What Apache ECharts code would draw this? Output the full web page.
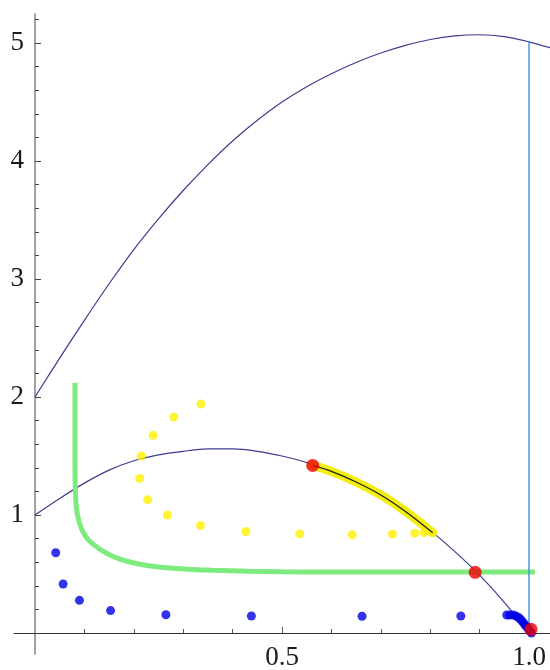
<!DOCTYPE html>
<html>
<head>
<meta charset="utf-8">
<script src="https://cdn.jsdelivr.net/npm/echarts@6/dist/echarts.min.js"></script>
<style>
  html, body { margin: 0; padding: 0; background: #ffffff; }
  #chart { width: 550px; height: 670px; }
</style>
</head>
<body>
<div id="chart"></div>
<script>
// ---- data ----
const upperX = [0, 0.05, 0.1, 0.15, 0.2, 0.25, 0.3, 0.35, 0.4, 0.45, 0.5, 0.55, 0.6, 0.65, 0.7, 0.75, 0.8, 0.85, 0.9, 0.95, 1.0, 1.0425];
const upperY = [2.00, 2.33, 2.65, 2.96, 3.25, 3.51, 3.75, 3.97, 4.17, 4.345, 4.50, 4.63, 4.74, 4.835, 4.915, 4.98, 5.03, 5.06, 5.07, 5.055, 5.01, 4.96];

const lowerX = [0, 0.05, 0.1, 0.15, 0.2, 0.25, 0.3, 0.35, 0.4, 0.45, 0.5, 0.55, 0.6, 0.65, 0.7, 0.75, 0.8, 0.85, 0.9, 0.95, 1.0];
const lowerY = [1.00, 1.14, 1.27, 1.38, 1.46, 1.51, 1.54, 1.56, 1.56, 1.54, 1.50, 1.445, 1.37, 1.28, 1.17, 1.03, 0.87, 0.69, 0.49, 0.26, 0.0];

const bandX = [0.562, 0.6, 0.65, 0.7, 0.75, 0.805];
const bandY = [1.42, 1.37, 1.28, 1.17, 1.03, 0.85];

const greenX = [0.081, 0.081, 0.0815, 0.083, 0.086, 0.091, 0.098, 0.108, 0.12, 0.135, 0.155, 0.18, 0.21, 0.25, 0.30, 0.36, 0.43, 0.5, 0.6, 0.8, 1.012];
const greenY = [2.12, 1.50, 1.25, 1.10, 1.00, 0.92, 0.85, 0.79, 0.745, 0.70, 0.655, 0.615, 0.585, 0.56, 0.543, 0.532, 0.524, 0.519, 0.516, 0.516, 0.518];

const yellowX = [0.336, 0.281, 0.239, 0.215, 0.212, 0.228, 0.268, 0.335, 0.427, 0.536, 0.642, 0.7235, 0.769, 0.788];
const yellowY = [1.94, 1.83, 1.675, 1.50, 1.31, 1.13, 1.00, 0.91, 0.86, 0.84, 0.833, 0.839, 0.845, 0.85];

const blueX = [0.042, 0.057, 0.090, 0.153, 0.265, 0.438, 0.662, 0.862, 0.955, 0.961, 0.968, 0.973, 0.978, 0.982, 0.985, 0.989, 0.992, 0.995, 0.998, 1.000, 1.003, 1.005];
const blueY = [0.68, 0.415, 0.277, 0.19, 0.155, 0.144, 0.142, 0.144, 0.153, 0.153, 0.153, 0.145, 0.133, 0.12, 0.104, 0.086, 0.068, 0.055, 0.04, 0.025, 0.012, 0.0];

const redX = [0.562, 0.891, 1.004];
const redY = [1.42, 0.514, 0.031];

const vlineX = [1.0, 1.0];
const vlineY = [0.02, 5.01];

const xMinorTicks = [0.1, 0.2, 0.3, 0.4, 0.6, 0.7, 0.8, 0.9];
const xMajorTicks = [0.5, 1.0];
const xTickLabels = ['0.5', '1.0'];
const yMinorTicks = [0.2, 0.4, 0.6, 0.8, 1.2, 1.4, 1.6, 1.8, 2.2, 2.4, 2.6, 2.8, 3.2, 3.4, 3.6, 3.8, 4.2, 4.4, 4.6, 4.8, 5.2];
const yMajorTicks = [1, 2, 3, 4, 5];
const yTickLabels = ['1', '2', '3', '4', '5'];

function pairs(xs, ys) { return xs.map((x, i) => [x, ys[i]]); }

const X_MIN = -0.0425, X_MAX = 1.0425, Y_MIN = -0.178, Y_MAX = 5.246;
const labelFont = { fontFamily: 'Liberation Serif', fontSize: 27, color: '#1a1a1a' };

const chart = echarts.init(document.getElementById('chart'), null, { renderer: 'canvas' });
chart.setOption({
  animation: false,
  backgroundColor: '#ffffff',
  textStyle: { fontFamily: 'Liberation Serif' },
  grid: { left: 14, right: 0, top: 14, bottom: 16, containLabel: false, outerBoundsMode: 'none' },
  xAxis: [
    {
      type: 'value', min: X_MIN, max: X_MAX, position: 'bottom',
      axisLine: { show: true, onZero: true, onZeroAxisIndex: 0, lineStyle: { color: '#333333', width: 1 } },
      axisTick: { show: true, inside: true, length: 6, customValues: xMajorTicks, lineStyle: { color: '#555555', width: 1 } },
      axisLabel: Object.assign({ show: true, margin: -10, customValues: xMajorTicks,
        formatter: v => xTickLabels[xMajorTicks.indexOf(+v.toFixed(2))] || '' }, labelFont),
      splitLine: { show: false }
    },
    {
      type: 'value', min: X_MIN, max: X_MAX, position: 'bottom',
      axisLine: { show: true, onZero: true, onZeroAxisIndex: 0, lineStyle: { color: 'rgba(0,0,0,0)', width: 1 } },
      axisTick: { show: true, inside: true, length: 4, customValues: xMinorTicks, lineStyle: { color: '#555555', width: 1 } },
      axisLabel: { show: false },
      splitLine: { show: false }
    }
  ],
  yAxis: [
    {
      type: 'value', min: Y_MIN, max: Y_MAX, position: 'left',
      axisLine: { show: true, onZero: true, onZeroAxisIndex: 0, lineStyle: { color: '#8a8a8a', width: 1.6 } },
      axisTick: { show: true, inside: true, length: 6, customValues: yMajorTicks, lineStyle: { color: '#444444', width: 1 } },
      axisLabel: Object.assign({ show: true, margin: -10, customValues: yMajorTicks,
        formatter: v => yTickLabels[yMajorTicks.indexOf(Math.round(v))] || '' }, labelFont),
      splitLine: { show: false }
    },
    {
      type: 'value', min: Y_MIN, max: Y_MAX, position: 'left',
      axisLine: { show: true, onZero: true, onZeroAxisIndex: 0, lineStyle: { color: 'rgba(0,0,0,0)', width: 1 } },
      axisTick: { show: true, inside: true, length: 4, customValues: yMinorTicks, lineStyle: { color: '#444444', width: 1 } },
      axisLabel: { show: false },
      splitLine: { show: false }
    }
  ],
  series: [
    { type: 'line', data: pairs(upperX, upperY), showSymbol: false, symbol: 'none', smooth: 0.3,
      lineStyle: { color: '#3d3d8f', width: 1.2 }, z: 2 },
    { type: 'line', data: pairs(lowerX, lowerY), showSymbol: false, symbol: 'none', smooth: 0.3,
      lineStyle: { color: '#3d3d8f', width: 1.2 }, z: 2 },
    { type: 'line', data: pairs(greenX, greenY), showSymbol: false, symbol: 'none', smooth: 0.3,
      lineStyle: { color: '#7deb7d', width: 5, cap: 'butt' }, z: 3 },
    { type: 'scatter', data: pairs(yellowX, yellowY), symbol: 'circle', symbolSize: 9,
      itemStyle: { color: '#fff000' }, z: 4 },
    { type: 'line', data: pairs(bandX, bandY), showSymbol: false, symbol: 'none', smooth: 0.3,
      lineStyle: { color: '#f4ee10', width: 9, cap: 'round' }, z: 4 },
    { type: 'line', data: pairs(bandX, bandY), showSymbol: false, symbol: 'none', smooth: 0.3,
      lineStyle: { color: '#222222', width: 1.3 }, z: 5 },
    { type: 'line', data: pairs(vlineX, vlineY), showSymbol: false, symbol: 'none',
      lineStyle: { color: '#4a98dc', width: 1.5 }, z: 5 },
    { type: 'scatter', data: pairs(blueX, blueY), symbol: 'circle', symbolSize: 9,
      itemStyle: { color: '#0000e6' }, z: 6 },
    { type: 'scatter', data: pairs(redX, redY), symbol: 'circle', symbolSize: 13,
      itemStyle: { color: '#ee0000' }, z: 7 }
  ]
});
</script>
</body>
</html>
